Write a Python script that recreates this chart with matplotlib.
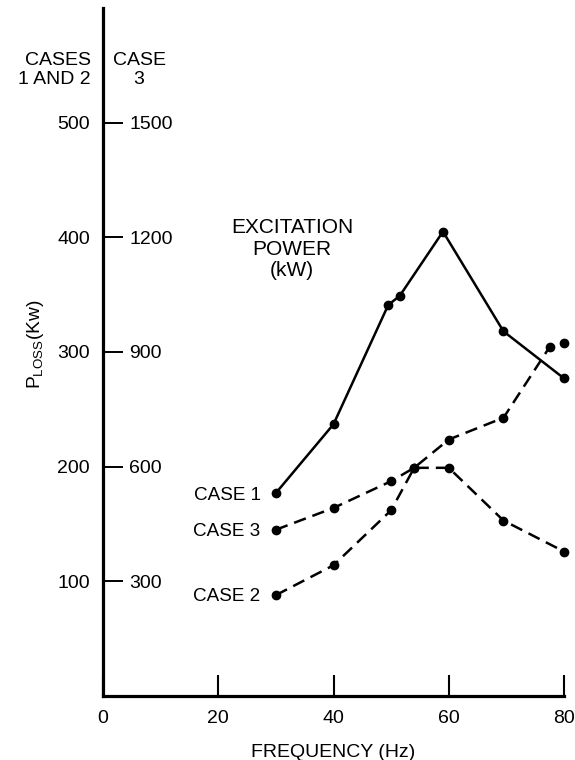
import matplotlib
matplotlib.use("Agg")
import matplotlib.pyplot as plt

plt.rcParams['font.family'] = ['Liberation Sans', 'DejaVu Sans']
plt.rcParams['mathtext.fontset'] = 'custom'
plt.rcParams['mathtext.rm'] = 'Liberation Sans'
plt.rcParams['mathtext.it'] = 'Liberation Sans:italic'

# frequency (Hz) vs. loss (kW); cases 1 and 2 on the left scale, case 3 on the right one
freq_case1 = [30, 40, 49.5, 51.5, 59, 69.5, 80]
loss_case1 = [177, 237, 341, 349, 405, 318, 277]

freq_case2 = [30, 40, 50, 54, 60, 69.5, 80]
loss_case2 = [88, 114, 162, 199, 199, 153, 126]

freq_case3 = [30, 40, 50, 54, 60, 69.5, 77.5, 80]
loss_case3 = [435, 492, 562, 597, 671, 728, 913, 924]

freq_ticks = [0, 20, 40, 60, 80]
ticks_case12 = [100, 200, 300, 400, 500]
ticks_case3 = [300, 600, 900, 1200, 1500]

W, H = 575, 760
fig = plt.figure(figsize=(W / 100, H / 100), dpi=100)
ax = fig.add_axes([103 / W, 64 / H, 461 / W, 688 / H])
ax.set_xlim(0, 80)
ax.set_ylim(0, 600)

# second scale sits on the same vertical line, labels to the right of it
ax3 = ax.twinx()
ax3.set_ylim(0, 1800)
ax3.spines['right'].set_position(('axes', 0))
for s in ax3.spines.values():
    s.set_visible(False)
for s in ['top', 'right']:
    ax.spines[s].set_visible(False)
for s in ['left', 'bottom']:
    ax.spines[s].set_linewidth(2.3)

ax.set_xticks(freq_ticks)
ax.set_yticks(ticks_case12)
ax3.set_yticks(ticks_case3)
ax.tick_params(axis='x', direction='in', length=15, width=1.5, pad=10, labelsize=14)
ax.tick_params(axis='y', length=0, pad=9.5, labelsize=14)
ax3.tick_params(axis='y', direction='out', length=14.5, width=1.4, pad=4.5, labelsize=14)

line_kw = dict(color='black', lw=1.8, marker='o', ms=6, clip_on=False)
ax.plot(freq_case1, loss_case1, ls='-', **line_kw)
ax.plot(freq_case2, loss_case2, ls=(0, (5, 2.8)), **line_kw)
ax3.plot(freq_case3, loss_case3, ls=(0, (5, 2.8)), **line_kw)

lab_kw = dict(textcoords='offset points', ha='right', va='center', fontsize=13.6)
ax.annotate('CASE 1', xy=(freq_case1[0], loss_case1[0]), xytext=(-11, -2), **lab_kw)
ax.annotate('CASE 2', xy=(freq_case2[0], loss_case2[0]), xytext=(-11, -1), **lab_kw)
ax3.annotate('CASE 3', xy=(freq_case3[0], loss_case3[0]), xytext=(-11, -1), **lab_kw)

ax.set_xlabel('FREQUENCY (Hz)', fontsize=14, labelpad=12)
fig.text(35 / W, 1 - 344 / H, r'P$_{\mathrm{LOSS}}$(Kw)', rotation=90,
         ha='center', va='center', fontsize=13.8)

fig.text(91 / W, 1 - 70 / H, 'CASES\n1 AND 2', ha='right', va='center',
         multialignment='right', fontsize=14)
fig.text(139 / W, 1 - 70 / H, 'CASE\n3', ha='center', va='center',
         multialignment='center', fontsize=14)
fig.text(292 / W, 1 - 249 / H, 'EXCITATION\nPOWER\n(kW)', ha='center', va='center',
         multialignment='center', fontsize=15, linespacing=1.15)

fig.savefig('out.png', dpi=100)
